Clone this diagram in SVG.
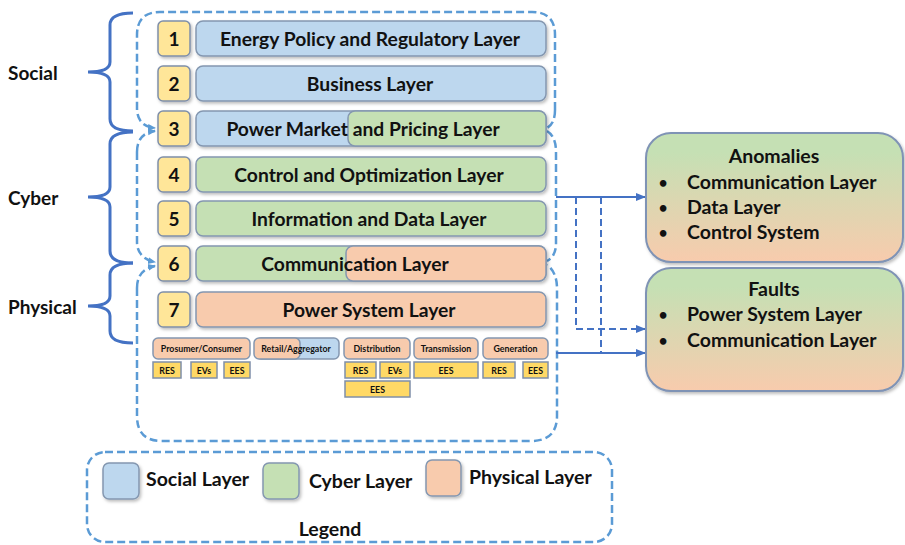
<svg xmlns="http://www.w3.org/2000/svg" width="905" height="545" viewBox="0 0 905 545">
<defs>
<style>
.grp{fill:none;stroke:#5B9BD5;stroke-width:2.5;stroke-dasharray:8 4;}
.brace{fill:none;stroke:#4472C4;stroke-width:3;}
.num{fill:#FFE699;stroke:#7F8FA9;stroke-width:1.5;}
.blue{fill:#BDD7EE;stroke:#8497B0;stroke-width:1.5;}
.green{fill:#C5E0B4;stroke:#8497B0;stroke-width:1.5;}
.peach{fill:#F8CBAD;stroke:#8497B0;stroke-width:1.5;}
.yel{fill:#FFD966;stroke:#7F8FA9;stroke-width:1.5;}
.t{font-family:Lato,"Liberation Sans",sans-serif;font-weight:bold;fill:#111;}
.bar{font-size:19.3px;text-anchor:middle;}
.n{font-size:19px;text-anchor:middle;}
.s{font-size:8.8px;text-anchor:middle;}
.side{font-size:19px;}
.rt{font-size:19.5px;}
.bul{font-size:15px;text-anchor:middle;}
.box{fill:url(#gr);stroke:#7F93B5;stroke-width:2;}
.conn{fill:none;stroke:#4472C4;stroke-width:2;}
.dash{stroke-dasharray:7 4;}
</style>
<linearGradient id="gr" x1="0" y1="0" x2="0" y2="1">
<stop offset="0.15" stop-color="#C5E0B4"/>
<stop offset="1" stop-color="#F8CBAD"/>
</linearGradient>
<marker id="ah" markerWidth="10" markerHeight="10" refX="9" refY="5" orient="auto" markerUnits="userSpaceOnUse">
<path d="M0,1 L10,5 L0,9 z" fill="#4472C4"/>
</marker>
<marker id="ah2" markerWidth="8" markerHeight="8" refX="7" refY="4" orient="auto" markerUnits="userSpaceOnUse">
<path d="M0,0.5 L8,4 L0,7.5 z" fill="#5B9BD5"/>
</marker>
<filter id="sh" x="-10%" y="-10%" width="130%" height="140%">
<feDropShadow dx="1.5" dy="2" stdDeviation="1.5" flood-color="#000" flood-opacity="0.25"/>
</filter>
</defs>
<rect width="905" height="545" fill="#fff"/>

<g id="braces">
<path class="brace" d="M133,13 Q110,13 110,25 L110,62 Q110,72 88,72 Q110,72 110,82 L110,119 Q110,131 133,131"/>
<path class="brace" d="M133,132 Q110,132 110,144 L110,187 Q110,197 88,197 Q110,197 110,207 L110,251 Q110,263 133,263"/>
<path class="brace" d="M133,263 Q110,263 110,275 L110,296 Q110,306 88,306 Q110,306 110,316 L110,331 Q110,343 133,343"/>
</g>
<g id="side-labels">
<text class="t side" x="8" y="80">Social</text>
<text class="t side" x="8" y="205">Cyber</text>
<text class="t side" x="8" y="314">Physical</text>
</g>

<g id="groups">
<path class="grp" marker-end="url(#ah2)" d="M555,110 L555,35 Q555,12 532,12 L160,12 Q137,12 137,35 L137,108 C137,120 143,127 155,128"/>
<path class="grp" d="M555,110 C555,121 551,126 547,128"/>
<path class="grp" marker-end="url(#ah2)" d="M137,152 C137,138 145,132 155,131"/>
<path class="grp" marker-end="url(#ah2)" d="M137,152 L137,242 C137,254 145,260 155,262"/>
<path class="grp" d="M547,131 C552,134 556,140 556,152 L556,244 C556,254 551,259 547,261"/>
<path class="grp" marker-end="url(#ah2)" d="M137,288 C137,274 145,268 155,266"/>
<path class="grp" d="M137,288 L137,416 Q137,441 162,441 L531,441 Q557,441 557,416 L557,288 C557,276 552,268 547,265"/>
</g>

<g id="layer1" filter="url(#sh)"><rect class="num" x="158" y="21" width="32" height="35" rx="5"/><rect class="blue" x="196" y="21" width="350" height="35" rx="7"/></g>
<text class="t n" x="174" y="45.5">1</text><text class="t bar" x="370" y="45.5">Energy Policy and Regulatory Layer</text>
<g id="layer2" filter="url(#sh)"><rect class="num" x="158" y="66" width="32" height="35" rx="5"/><rect class="blue" x="196" y="66" width="350" height="35" rx="7"/></g>
<text class="t n" x="174" y="90.5">2</text><text class="t bar" x="370" y="90.5">Business Layer</text>
<g id="layer3" filter="url(#sh)"><rect class="num" x="158" y="111" width="32" height="35" rx="5"/><rect class="blue" x="196" y="111" width="350" height="35" rx="7"/><rect class="green" x="348" y="111" width="198" height="35" rx="7"/></g>
<text class="t n" x="174" y="135.5">3</text><text class="t bar" x="363" y="135.5">Power Market and Pricing Layer</text>
<g id="layer4" filter="url(#sh)"><rect class="num" x="158" y="157" width="32" height="35" rx="5"/><rect class="green" x="196" y="157" width="350" height="35" rx="7"/></g>
<text class="t n" x="174" y="181.5">4</text><text class="t bar" x="369" y="181.5">Control and Optimization Layer</text>
<g id="layer5" filter="url(#sh)"><rect class="num" x="158" y="201" width="32" height="35" rx="5"/><rect class="green" x="196" y="201" width="350" height="35" rx="7"/></g>
<text class="t n" x="174" y="225.5">5</text><text class="t bar" x="369" y="225.5">Information and Data Layer</text>
<g id="layer6" filter="url(#sh)"><rect class="num" x="158" y="246" width="32" height="35" rx="5"/><rect class="green" x="196" y="246" width="350" height="35" rx="7"/><rect class="peach" x="346" y="246" width="200" height="35" rx="7"/></g>
<text class="t n" x="174" y="270.5">6</text><text class="t bar" x="355" y="270.5">Communication Layer</text>
<g id="layer7" filter="url(#sh)"><rect class="num" x="158" y="292" width="32" height="35" rx="5"/><rect class="peach" x="196" y="292" width="350" height="35" rx="7"/></g>
<text class="t n" x="174" y="316.5">7</text><text class="t bar" x="369" y="316.5">Power System Layer</text>

<g id="prosumer">
<rect class="peach" x="153" y="338" width="97" height="21" rx="5"/><text class="t s" x="201.5" y="352">Prosumer/Consumer</text>
<rect class="yel" x="153" y="362" width="28" height="16"/><text class="t s" x="167" y="373.5">RES</text>
<rect class="yel" x="191" y="362" width="26" height="16"/><text class="t s" x="204" y="373.5">EVs</text>
<rect class="yel" x="224" y="362" width="26" height="16"/><text class="t s" x="237" y="373.5">EES</text>
</g>
<g id="retail">
<rect class="blue" x="256" y="338" width="83" height="21" rx="5"/>
<rect class="peach" x="254" y="338" width="46" height="21" rx="5"/>
<text class="t s" x="296" y="352">Retail/Aggregator</text>
</g>
<g id="distribution">
<rect class="peach" x="344" y="338" width="66" height="21" rx="5"/><text class="t s" x="377" y="352">Distribution</text>
<rect class="yel" x="345" y="362" width="31" height="16"/><text class="t s" x="360.5" y="373.5">RES</text>
<rect class="yel" x="380" y="362" width="30" height="16"/><text class="t s" x="395" y="373.5">EVs</text>
<rect class="yel" x="345" y="381" width="65" height="16"/><text class="t s" x="377.5" y="392.5">EES</text>
</g>
<g id="transmission">
<rect class="peach" x="414" y="338" width="64" height="21" rx="5"/><text class="t s" x="446" y="352">Transmission</text>
<rect class="yel" x="414" y="362" width="64" height="16"/><text class="t s" x="446" y="373.5">EES</text>
</g>
<g id="generation">
<rect class="peach" x="483" y="338" width="65" height="21" rx="5"/><text class="t s" x="515.5" y="352">Generation</text>
<rect class="yel" x="483" y="362" width="32" height="16"/><text class="t s" x="499" y="373.5">RES</text>
<rect class="yel" x="523" y="362" width="25" height="16"/><text class="t s" x="535.5" y="373.5">EES</text>
</g>

<g id="connectors">
<path class="conn" marker-end="url(#ah)" d="M556,197 L645,197"/>
<path class="conn" marker-end="url(#ah)" d="M556,353 L645,353"/>
<path class="conn dash" marker-end="url(#ah)" d="M576,197 L576,329 L645,329"/>
<path class="conn dash" d="M601,197 L601,353"/>
</g>

<g id="anomalies">
<rect class="box" filter="url(#sh)" x="646" y="133" width="257" height="129" rx="25"/>
<text class="t rt" x="774" y="163" text-anchor="middle">Anomalies</text>
<text class="t bul" x="663" y="188">•</text><text class="t rt" x="687" y="189">Communication Layer</text>
<text class="t bul" x="663" y="213">•</text><text class="t rt" x="687" y="214">Data Layer</text>
<text class="t bul" x="663" y="238">•</text><text class="t rt" x="687" y="239">Control System</text>
</g>
<g id="faults">
<rect class="box" filter="url(#sh)" x="646" y="268" width="257" height="123" rx="25"/>
<text class="t rt" x="774" y="296" text-anchor="middle">Faults</text>
<text class="t bul" x="663" y="320">•</text><text class="t rt" x="687" y="321">Power System Layer</text>
<text class="t bul" x="663" y="346">•</text><text class="t rt" x="687" y="347">Communication Layer</text>
</g>

<g id="legend">
<rect class="grp" x="87" y="452" width="525" height="90" rx="18"/>
<rect class="blue" filter="url(#sh)" x="103" y="463" width="36" height="36" rx="6"/>
<text class="t rt" x="146" y="486">Social Layer</text>
<rect class="green" filter="url(#sh)" x="263" y="463" width="36" height="36" rx="6"/>
<text class="t rt" x="309" y="488">Cyber Layer</text>
<rect class="peach" filter="url(#sh)" x="426" y="460" width="35" height="36" rx="6"/>
<text class="t rt" x="469" y="484">Physical Layer</text>
<text class="t rt" x="330" y="536" text-anchor="middle">Legend</text>
</g>
</svg>
